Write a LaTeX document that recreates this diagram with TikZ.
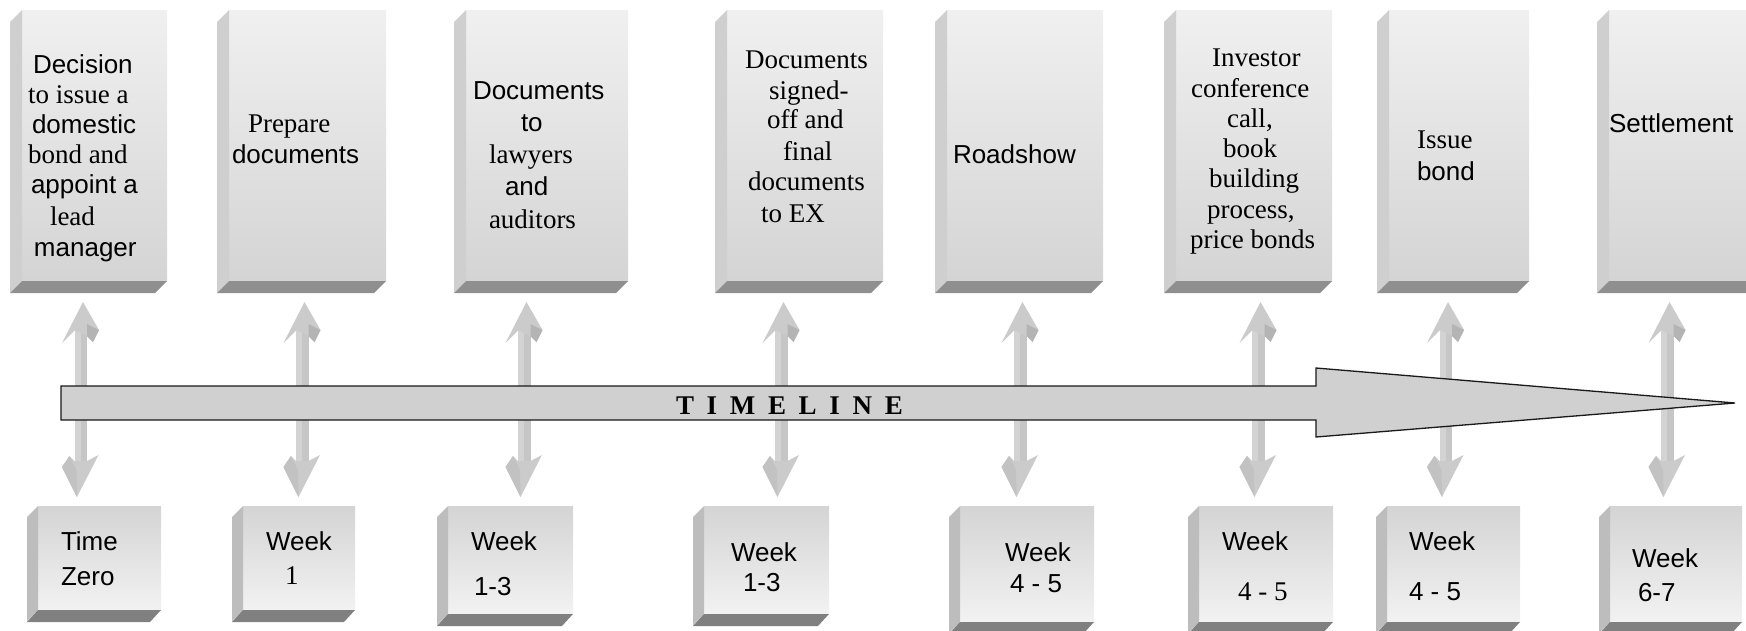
\documentclass[tikz,border=0pt]{standalone}
\usepackage{fontspec}
\setmainfont{Liberation Serif}
\setsansfont{Liberation Sans}
\newcommand{\ArialF}{\sffamily\fontsize{26}{30}\selectfont}
\newcommand{\TimesF}{\rmfamily\fontsize{27}{30}\selectfont}
\definecolor{tfTop}{HTML}{F0F0F0}
\definecolor{tfBot}{HTML}{D4D4D4}
\definecolor{tSide}{HTML}{CFCFCF}
\definecolor{tBase}{HTML}{8F8F8F}
\definecolor{bfTop}{HTML}{D4D4D4}
\definecolor{bfBot}{HTML}{F2F2F2}
\definecolor{bSide}{HTML}{BDBDBD}
\definecolor{bBase}{HTML}{808080}
\definecolor{arrM}{HTML}{CBCBCB}
\definecolor{arrD}{HTML}{B4B4B4}
\definecolor{arrD2}{HTML}{C2C2C2}
\definecolor{arrL}{HTML}{D3D3D3}
\definecolor{arrR}{HTML}{C6C6C6}
\definecolor{tlFill}{HTML}{D0D0D0}
\tikzset{
  topfront/.style={draw=none, inner sep=0pt, outer sep=0pt, top color=tfTop, bottom color=tfBot},
  botfront/.style={draw=none, inner sep=0pt, outer sep=0pt, top color=bfTop, bottom color=bfBot},
  lbl/.style={anchor=base west, inner sep=0pt, outer sep=0pt},
  timeline/.style={fill=tlFill, draw=black!90, line width=1.3pt, line join=miter},
}
% top box: name, left x, right x
\newcommand{\topbox}[3]{%
  \node[topfront, anchor=north west, minimum width={#3-#2}, minimum height=271] (#1) at (#2,10) {};
  \fill[tSide] (#1.north west) -- ([shift={(-12,12)}]#1.north west) -- ([shift={(-12,12)}]#1.south west) -- (#1.south west) -- cycle;
  \fill[tBase] (#1.south west) -- (#1.south east) -- ([shift={(-12,12)}]#1.south east) -- ([shift={(-12,12)}]#1.south west) -- cycle;
}
% bottom box: name, left x, right x, bottom y of front
\newcommand{\botbox}[4]{%
  \node[botfront, anchor=north west, minimum width={#3-#2}, minimum height={#4-506}] (#1) at (#2,506) {};
  \fill[bSide] (#1.north west) -- ([shift={(-11,11)}]#1.north west) -- ([shift={(-11,11)}]#1.south west) -- (#1.south west) -- cycle;
  \fill[bBase] (#1.south west) -- (#1.south east) -- ([shift={(-11,12)}]#1.south east) -- ([shift={(-11,12)}]#1.south west) -- cycle;
}
% vertical double arrow: name, centre x
\newcommand{\vdarrow}[2]{%
  \begin{scope}[shift={(#2,0)}]
    \coordinate (#1u) at (2.5,302);
    \coordinate (#1d) at (-3.5,497);
    \fill[arrL] (-6,330) rectangle (0,463);
    \fill[arrR] (0,330) rectangle (6.5,463);
    \fill[arrM] (#1u) -- (18.5,330) -- (12.5,342) -- (6.5,336) -- (-5.5,330) -- (-18.5,343) -- cycle;
    \fill[arrD] (6.5,324) -- (18.5,330) -- (12.5,342) -- (6.5,336) -- cycle;
    \fill[arrM] (#1d) -- (-18.5,467) -- (-11,456) -- (-6,461) -- (6.5,461) -- (18,455) -- cycle;
    \fill[arrD2] (-18.5,467) -- (-11,456) -- (-4,470) -- (#1d) -- cycle;
  \end{scope}}
\begin{document}
\begin{tikzpicture}[x=1pt,y=-1pt]
\useasboundingbox (0,0) rectangle (1746,630);
\clip (0,0) rectangle (1746,630);

% top boxes
\topbox{T1}{22}{167}
\topbox{T2}{229}{386}
\topbox{T3}{466}{628}
\topbox{T4}{727}{883}
\topbox{T5}{947}{1103}
\topbox{T6}{1176}{1332}
\topbox{T7}{1389}{1529}
\topbox{T8}{1609}{1760}

% bottom boxes
\botbox{B1}{38}{161}{610}
\botbox{B2}{243}{355}{610}
\botbox{B3}{448}{573}{614}
\botbox{B4}{704}{829}{614}
\botbox{B5}{960}{1094}{622}
\botbox{B6}{1199}{1333}{622}
\botbox{B7}{1387}{1520}{622}
\botbox{B8}{1610}{1742}{622}

% vertical double arrows (behind the timeline)
\vdarrow{A1}{80.5}
\vdarrow{A2}{302}
\vdarrow{A3}{524}
\vdarrow{A4}{781}
\vdarrow{A5}{1020}
\vdarrow{A6}{1258}
\vdarrow{A7}{1445.5}
\vdarrow{A8}{1667}

% timeline arrow
\coordinate (tl1) at (61,386);
\coordinate (tl2) at (1316,386);
\coordinate (tl3) at (1316,368);
\coordinate (tlTip) at (1735,403);
\coordinate (tl5) at (1316,437);
\coordinate (tl6) at (1316,420);
\coordinate (tl7) at (61,420);
\draw[timeline] (tl1) -- (tl2) -- (tl3) -- (tlTip) -- (tl5) -- (tl6) -- (tl7) -- cycle;
\node[lbl] (TL) at (676,414) {\rmfamily\bfseries\fontsize{27}{30}\selectfont\addfontfeatures{LetterSpace=47}TIMELINE};

% texts of top boxes
\node[lbl] (t1a) at (33,73) {\ArialF Decision};
\node[lbl] (t1b) at (28,103) {\TimesF to issue a};
\node[lbl] (t1c) at (32,133) {\ArialF domestic};
\node[lbl] (t1d) at (28,163) {\TimesF bond and};
\node[lbl] (t1e) at (31,193) {\ArialF appoint a};
\node[lbl] (t1f) at (50,225) {\TimesF lead};
\node[lbl] (t1g) at (34,256) {\ArialF manager};

\node[lbl] (t2a) at (248,132) {\TimesF Prepare};
\node[lbl] (t2b) at (232,163) {\ArialF documents};

\node[lbl] (t3a) at (473,99) {\ArialF Documents};
\node[lbl] (t3b) at (521,131) {\ArialF to};
\node[lbl] (t3c) at (489,163) {\TimesF lawyers};
\node[lbl] (t3d) at (505,195) {\ArialF and};
\node[lbl] (t3e) at (489,228) {\TimesF auditors};

\node[lbl] (t4a) at (745,68) {\TimesF Documents};
\node[lbl] (t4b) at (769,99) {\TimesF signed-};
\node[lbl] (t4c) at (767,128) {\TimesF off and};
\node[lbl] (t4d) at (783,160) {\TimesF final};
\node[lbl] (t4e) at (748,190) {\TimesF documents};
\node[lbl] (t4f) at (761,222) {\TimesF to EX};

\node[lbl] (t5a) at (953,163) {\ArialF Roadshow};

\node[lbl] (t6a) at (1212,66) {\TimesF Investor};
\node[lbl] (t6b) at (1191,97) {\TimesF conference};
\node[lbl] (t6c) at (1227,127) {\TimesF call,};
\node[lbl] (t6d) at (1223,157) {\TimesF book};
\node[lbl] (t6e) at (1209,187) {\TimesF building};
\node[lbl] (t6f) at (1207,218) {\TimesF process,};
\node[lbl] (t6g) at (1190,248) {\TimesF price bonds};

\node[lbl] (t7a) at (1417,148) {\TimesF Issue};
\node[lbl] (t7b) at (1417,180) {\ArialF bond};

\node[lbl] (t8a) at (1609,132) {\ArialF Settlement};

% texts of bottom boxes
\node[lbl] (b1a) at (61,550) {\ArialF Time};
\node[lbl] (b1b) at (61,585) {\ArialF Zero};
\node[lbl] (b2a) at (266,550) {\ArialF Week};
\node[lbl] (b2b) at (285,584) {\TimesF 1};
\node[lbl] (b3a) at (471,550) {\ArialF Week};
\node[lbl] (b3b) at (474,595) {\ArialF 1-3};
\node[lbl] (b4a) at (731,561) {\ArialF Week};
\node[lbl] (b4b) at (743,591) {\ArialF 1-3};
\node[lbl] (b5a) at (1005,561) {\ArialF Week};
\node[lbl] (b5b) at (1010,592) {\ArialF 4 - 5};
\node[lbl] (b6a) at (1222,550) {\ArialF Week};
\node[lbl] (b6b) at (1238,600) {\TimesF 4 - 5};
\node[lbl] (b7a) at (1409,550) {\ArialF Week};
\node[lbl] (b7b) at (1409,600) {\ArialF 4 - 5};
\node[lbl] (b8a) at (1632,567) {\ArialF Week};
\node[lbl] (b8b) at (1638,601) {\ArialF 6-7};
\end{tikzpicture}
\end{document}
